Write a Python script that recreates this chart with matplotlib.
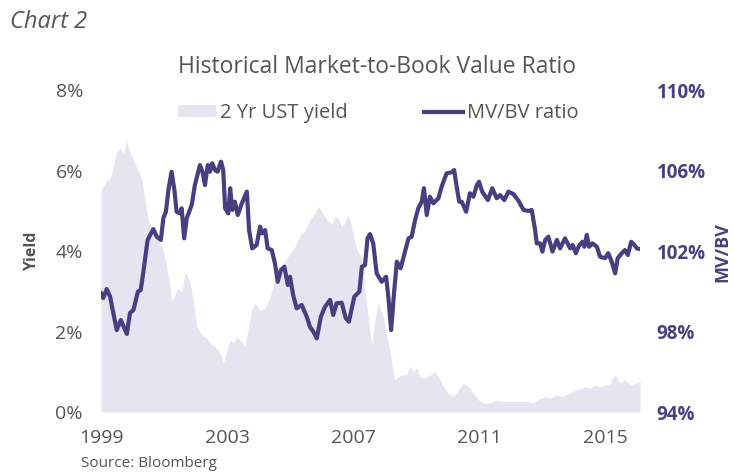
import matplotlib.pyplot as plt
from matplotlib.patches import Patch
from matplotlib.lines import Line2D

# 2 year UST yield (%)
yield_years = [1999.00, 1999.07, 1999.18, 1999.29, 1999.39, 1999.50, 1999.60, 1999.71, 1999.82, 1999.90,
               2000.03, 2000.18, 2000.29, 2000.40, 2000.50, 2000.66, 2000.82, 2000.98, 2001.08, 2001.19,
               2001.24, 2001.35, 2001.42, 2001.56, 2001.67, 2001.83, 2001.93, 2002.04, 2002.20, 2002.36,
               2002.46, 2002.62, 2002.72, 2002.83, 2002.88, 2002.99, 2003.10, 2003.20, 2003.31, 2003.47,
               2003.57, 2003.68, 2003.78, 2003.89, 2004.05, 2004.21, 2004.37, 2004.52, 2004.68, 2004.90,
               2005.05, 2005.16, 2005.32, 2005.48, 2005.63, 2005.79, 2005.90, 2006.01, 2006.17, 2006.32,
               2006.43, 2006.53, 2006.64, 2006.75, 2006.85, 2006.96, 2007.06, 2007.17, 2007.28, 2007.38,
               2007.49, 2007.59, 2007.70, 2007.80, 2007.96, 2008.12, 2008.23, 2008.33, 2008.44, 2008.55,
               2008.70, 2008.81, 2008.91, 2009.02, 2009.13, 2009.29, 2009.44, 2009.60, 2009.71, 2009.87,
               2010.03, 2010.18, 2010.34, 2010.50, 2010.66, 2010.82, 2010.98, 2011.14, 2011.35, 2011.56,
               2011.72, 2011.93, 2012.25, 2012.57, 2012.72, 2012.88, 2013.10, 2013.25, 2013.41, 2013.63,
               2013.84, 2014.05, 2014.26, 2014.37, 2014.52, 2014.68, 2014.84, 2015.00, 2015.16, 2015.23,
               2015.32, 2015.42, 2015.51, 2015.61, 2015.72, 2015.84, 2015.95, 2016.06, 2016.11]
yield_pct = [5.52, 5.60, 5.76, 5.80, 6.09, 6.47, 6.55, 6.43, 6.72, 6.47,
             6.26, 6.01, 5.81, 5.27, 4.77, 4.52, 4.27, 4.02, 3.61, 3.11,
             2.74, 2.91, 3.07, 2.99, 3.49, 3.20, 2.78, 2.12, 1.91, 1.83,
             1.71, 1.62, 1.54, 1.37, 1.21, 1.50, 1.79, 1.71, 1.87, 1.75,
             1.62, 2.12, 2.53, 2.70, 2.53, 2.58, 2.86, 3.28, 3.53, 3.83,
             3.98, 4.11, 4.40, 4.52, 4.77, 4.94, 5.10, 4.98, 4.77, 4.69,
             4.85, 4.81, 4.60, 4.73, 4.89, 4.60, 4.19, 3.94, 3.86, 3.03,
             2.29, 1.66, 2.29, 2.70, 2.37, 1.71, 1.21, 0.80, 0.88, 0.92,
             0.92, 1.13, 1.00, 1.09, 0.88, 0.84, 0.92, 1.00, 0.88, 0.63,
             0.46, 0.38, 0.55, 0.71, 0.63, 0.46, 0.30, 0.22, 0.23, 0.30,
             0.26, 0.26, 0.26, 0.26, 0.22, 0.32, 0.38, 0.34, 0.42, 0.38,
             0.46, 0.55, 0.59, 0.63, 0.59, 0.67, 0.63, 0.67, 0.67, 0.84,
             0.92, 0.80, 0.71, 0.81, 0.73, 0.67, 0.71, 0.75, 0.75]

# MV/BV ratio (%)
ratio_years = [1999.00, 1999.07, 1999.18, 1999.29, 1999.39, 1999.50, 1999.63, 1999.82, 1999.92, 2000.03,
               2000.17, 2000.26, 2000.34, 2000.48, 2000.66, 2000.77, 2000.90, 2000.98, 2001.06, 2001.14,
               2001.24, 2001.33, 2001.40, 2001.51, 2001.56, 2001.64, 2001.72, 2001.88, 2001.98, 2002.14,
               2002.22, 2002.30, 2002.39, 2002.46, 2002.53, 2002.62, 2002.70, 2002.81, 2002.88, 2002.94,
               2003.04, 2003.10, 2003.17, 2003.25, 2003.34, 2003.47, 2003.63, 2003.70, 2003.80, 2003.94,
               2004.05, 2004.12, 2004.21, 2004.29, 2004.42, 2004.52, 2004.61, 2004.71, 2004.82, 2004.93,
               2005.00, 2005.10, 2005.21, 2005.37, 2005.53, 2005.63, 2005.74, 2005.85, 2005.98, 2006.11,
               2006.27, 2006.37, 2006.48, 2006.64, 2006.77, 2006.87, 2007.04, 2007.20, 2007.28, 2007.38,
               2007.46, 2007.54, 2007.64, 2007.75, 2007.91, 2008.05, 2008.12, 2008.21, 2008.30, 2008.39,
               2008.51, 2008.62, 2008.76, 2008.86, 2008.97, 2009.07, 2009.18, 2009.25, 2009.34, 2009.44,
               2009.55, 2009.71, 2009.81, 2009.97, 2010.13, 2010.21, 2010.29, 2010.37, 2010.45, 2010.59,
               2010.71, 2010.82, 2010.93, 2011.00, 2011.10, 2011.28, 2011.42, 2011.56, 2011.67, 2011.80,
               2011.93, 2012.09, 2012.25, 2012.41, 2012.57, 2012.67, 2012.78, 2012.83, 2012.94, 2013.01,
               2013.10, 2013.20, 2013.33, 2013.47, 2013.57, 2013.73, 2013.89, 2013.97, 2014.07, 2014.17,
               2014.28, 2014.34, 2014.42, 2014.49, 2014.60, 2014.74, 2014.84, 2015.00, 2015.10, 2015.21,
               2015.32, 2015.40, 2015.53, 2015.63, 2015.72, 2015.83, 2015.93, 2016.01, 2016.09]
ratio_pct = [99.90, 99.66, 100.11, 99.73, 98.92, 98.07, 98.57, 97.88, 98.92, 99.07,
             99.98, 100.06, 100.91, 102.55, 103.09, 102.71, 102.55, 103.64, 103.95, 105.03,
             105.94, 105.03, 103.95, 103.87, 104.12, 102.63, 103.62, 104.29, 105.28, 106.27,
             105.94, 105.28, 106.27, 105.94, 106.36, 106.02, 105.94, 106.44, 106.02, 104.12,
             103.87, 105.12, 104.04, 104.45, 103.79, 104.37, 104.95, 103.04, 102.13, 102.30,
             103.21, 102.88, 103.04, 102.13, 102.05, 101.39, 100.47, 101.06, 101.22, 100.31,
             100.72, 99.81, 99.15, 99.32, 98.74, 98.24, 97.99, 97.66, 98.74, 99.23,
             99.57, 98.82, 99.40, 99.43, 98.66, 98.49, 99.73, 99.98, 101.22, 101.30,
             102.63, 102.84, 102.38, 100.89, 100.47, 100.72, 99.73, 98.07, 99.90, 101.47,
             101.14, 101.80, 102.63, 102.71, 103.54, 104.12, 104.45, 105.12, 103.79, 104.70,
             104.37, 104.62, 105.19, 105.86, 105.91, 106.02, 105.19, 104.45, 104.45, 103.95,
             104.87, 104.70, 105.28, 105.44, 104.95, 104.53, 105.12, 104.62, 104.78, 104.53,
             104.95, 104.83, 104.50, 104.04, 103.99, 104.04, 103.04, 102.38, 102.38, 101.97,
             102.55, 102.71, 101.97, 102.55, 102.13, 102.63, 102.13, 102.30, 101.89, 102.25,
             102.46, 102.21, 102.80, 102.21, 102.38, 102.21, 101.72, 101.64, 101.89, 101.47,
             100.89, 101.64, 101.89, 102.05, 101.80, 102.46, 102.30, 102.13, 102.10]

x_ticks = [1999, 2003, 2007, 2011, 2015]
left_ticks = [0, 2, 4, 6, 8]
right_ticks = [94, 98, 102, 106, 110]

purple = '#483f80'
fill_col = '#e6e4f0'
grey = '#555555'

plt.rcParams['font.family'] = ['Open Sans', 'DejaVu Sans']

fig = plt.figure(figsize=(7.34, 4.72), dpi=100)
ax = fig.add_axes([0.1376, 0.1271, 0.7344, 0.6822])
ax2 = ax.twinx()

ax.fill_between(yield_years, 0, yield_pct, color=fill_col, linewidth=0)
ax2.plot(ratio_years, ratio_pct, color=purple, linewidth=3)

ax.set_xlim(1999, 2016.11)
ax.set_ylim(0, 8)
ax2.set_ylim(94, 110)

ax.set_xticks(x_ticks)
ax.set_xticklabels([str(y) for y in x_ticks], fontsize=14, color=grey)
ax.set_yticks(left_ticks)
ax.set_yticklabels([f'{v}%' for v in left_ticks], fontsize=14, color=grey)
ax2.set_yticks(right_ticks)
ax2.set_yticklabels([f'{v}%' for v in right_ticks], fontsize=13.5, fontweight='bold', color=purple)

ax.tick_params(axis='x', length=0, pad=12)
ax.tick_params(axis='y', length=0, pad=13)
ax2.tick_params(axis='y', length=0, pad=12)
for a in (ax, ax2):
    for s in a.spines.values():
        s.set_visible(False)

fig.text(0.044, 0.468, 'Yield', rotation=90, ha='center', va='center',
         fontsize=11.5, fontweight='bold', color=grey)
fig.text(0.984, 0.466, 'MV/BV', rotation=90, ha='center', va='center',
         fontsize=13, fontweight='bold', color=purple)

fig.text(0.514, 0.857, 'Historical Market-to-Book Value Ratio', ha='center', va='center',
         fontsize=16.5, color=grey)
fig.text(0.014, 0.953, 'Chart 2', ha='left', va='center', fontsize=17, style='italic', color=grey)
fig.text(0.111, 0.018, 'Source: Bloomberg', ha='left', va='center', fontsize=11, color=grey)

handles = [Patch(facecolor=fill_col, edgecolor='none'),
           Line2D([], [], color=purple, linewidth=3)]
leg = ax.legend(handles, ['2 Yr UST yield', 'MV/BV ratio'], loc='upper center',
                bbox_to_anchor=(0.514, 1.015), ncol=2, frameon=False, fontsize=14.5,
                handlelength=1.9, handleheight=0.5, handletextpad=0.2, columnspacing=3.8)
for t in leg.get_texts():
    t.set_color(grey)

fig.savefig('out.png', dpi=100)
